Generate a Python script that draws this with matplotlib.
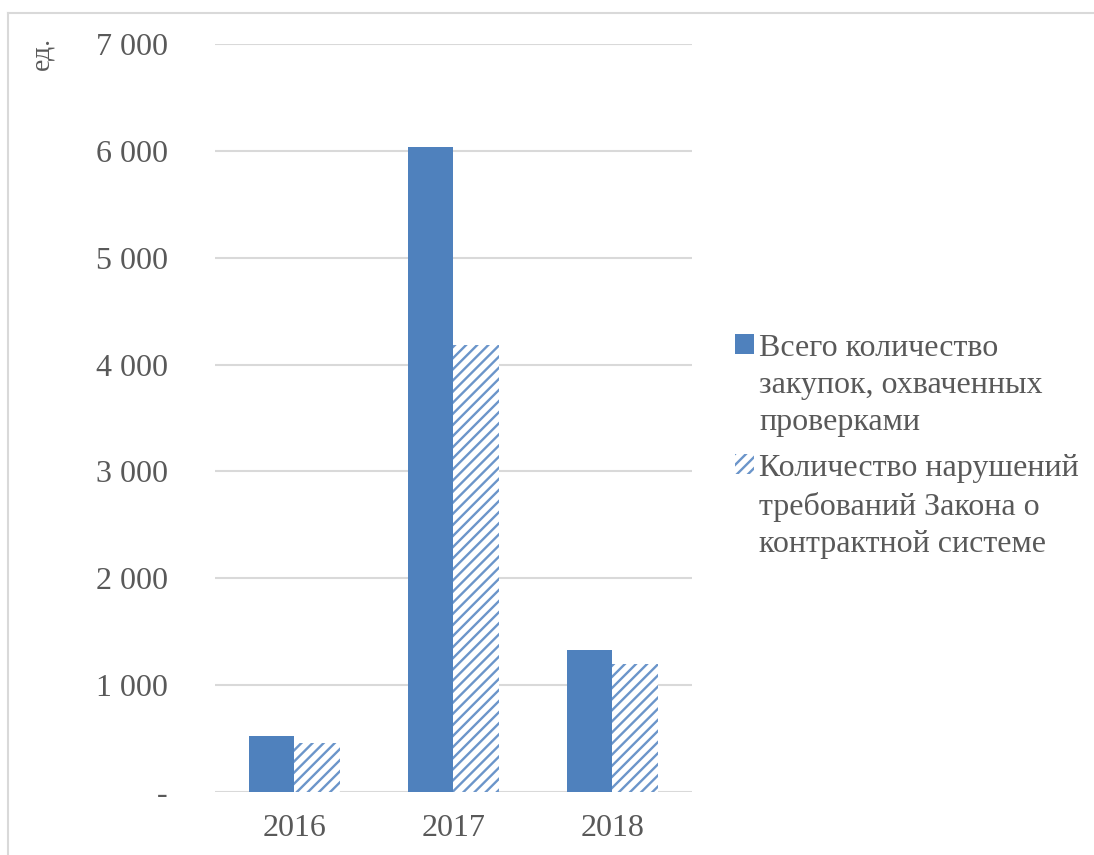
import numpy as np
import matplotlib.pyplot as plt
from matplotlib.lines import Line2D
from matplotlib.ticker import FuncFormatter

# Данные по годам
годы = ['2016', '2017', '2018']
закупки = [520, 6040, 1330]
нарушения = [460, 4180, 1200]
подписи = ['Всего количество\nзакупок, охваченных\nпроверками',
           'Количество нарушений\nтребований Закона о\nконтрактной системе']

синий = '#4F81BD'
штриховка = '#6B95CA'
серый_текст = '#595959'

plt.rcParams['font.family'] = ['Liberation Serif', 'DejaVu Serif']
plt.rcParams['hatch.linewidth'] = 1.7

fig = plt.figure(figsize=(10.94, 8.55), dpi=100)
ax = fig.add_axes([0.1965, 0.0737, 0.4360, 0.8748])

x = np.arange(len(годы))
ширина = 0.285

ax.bar(x - ширина / 2, закупки, ширина, color=синий, label=подписи[0], zorder=3)
ax.bar(x + ширина / 2, нарушения, ширина, color='white', edgecolor=штриховка,
       linewidth=0, hatch='///', label=подписи[1], zorder=3)

ax.set_xlim(-0.5, 2.5)
ax.set_ylim(0, 7000)
ax.set_yticks(np.arange(0, 7001, 1000))
ax.yaxis.set_major_formatter(FuncFormatter(
    lambda v, p: '-' if v == 0 else f'{int(v):,}'.replace(',', ' ')))
ax.set_xticks(x)
ax.set_xticklabels(годы)

ax.grid(axis='y', color='#D9D9D9', linewidth=1.5, zorder=0)
for s in ax.spines.values():
    s.set_visible(False)
ax.tick_params(axis='both', length=0, labelsize=23, labelcolor=серый_текст)
ax.tick_params(axis='y', pad=34)
ax.tick_params(axis='x', pad=16)

fig.text(0.038, 0.937, 'ед.', rotation=90, fontsize=20, color=серый_текст,
         ha='center', va='center')

leg = ax.legend(loc='center left', bbox_to_anchor=(1.03, 0.462), frameon=False,
                fontsize=23, labelcolor=серый_текст, handlelength=0.6,
                handleheight=0.6, handletextpad=0.15, labelspacing=0.52)
for t in leg.get_texts():
    t.set_linespacing(1.38)
# маркер легенды выравниваем по первой строке подписи
for колонка in leg._legend_handle_box.get_children():
    for строка in колонка.get_children():
        строка.align = 'top'

# рамка области диаграммы: верхняя и левая линии
fig.add_artist(Line2D([0.0075, 1.0], [0.985, 0.985], transform=fig.transFigure,
                      color='#D9D9D9', linewidth=1.5))
fig.add_artist(Line2D([0.0075, 0.0075], [0.0, 0.985], transform=fig.transFigure,
                      color='#D9D9D9', linewidth=1.5))

fig.savefig('out.png', dpi=100)
